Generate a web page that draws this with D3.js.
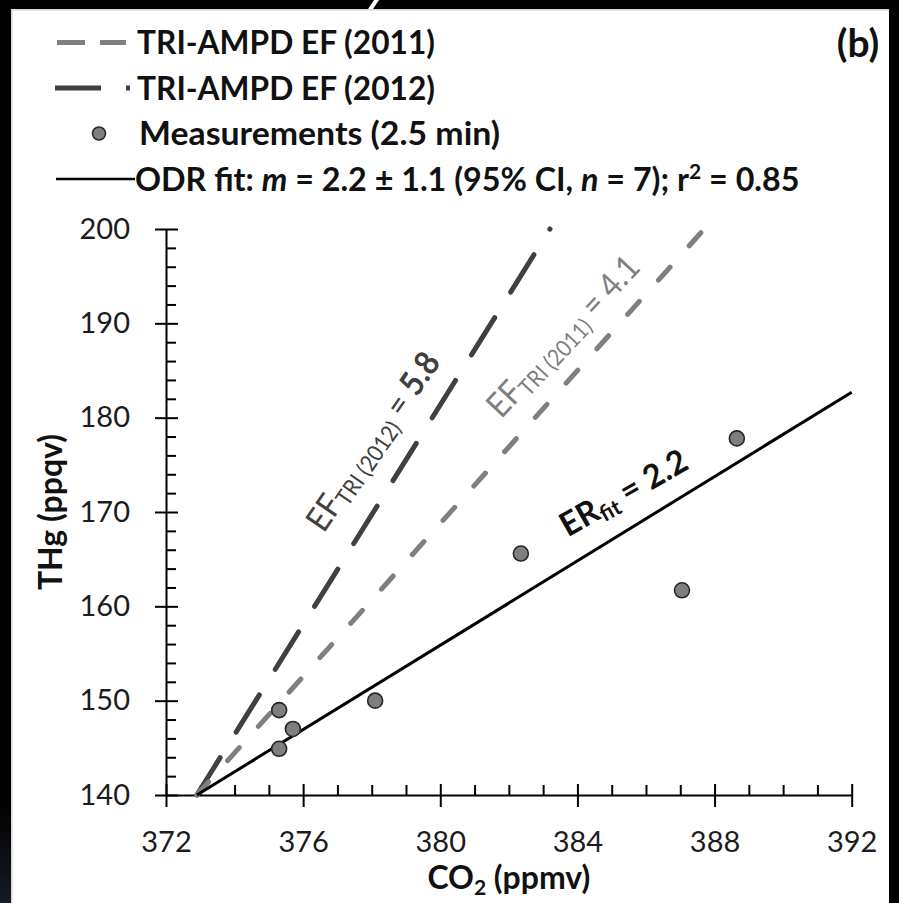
<!DOCTYPE html>
<html><head><meta charset="utf-8">
<script src="https://cdn.jsdelivr.net/npm/d3@7"></script>
<style>body{margin:0;background:#000}svg{display:block}text{font-family:Lato,"Open Sans",sans-serif}</style>
</head><body><svg id="c" width="899" height="903"></svg>
<script>
// ---------- data ----------
const xTicks = [372, 376, 380, 384, 388, 392];
const xMinor = [373, 374, 375, 377, 378, 379, 381, 382, 383, 385, 386, 387, 389, 390, 391];
const yTicks = [140, 150, 160, 170, 180, 190, 200];
const yMinor = [142, 144, 146, 148, 152, 154, 156, 158, 162, 164, 166, 168, 172, 174, 176, 178, 182, 184, 186, 188, 192, 194, 196, 198];

const co2 = [375.3, 375.7, 375.3, 378.1, 382.35, 387.05, 388.65];
const thg = [149.0, 147.0, 144.9, 150.0, 165.6, 161.7, 177.8];

const ef2011CO2 = [372.9, 387.7];
const ef2011THg = [140, 200];
const ef2012CO2 = [372.9, 383.2];
const ef2012THg = [140, 200];
const fitCO2 = [372.9, 392];
const fitTHg = [140, 182.7];

const legendLabels = ["TRI-AMPD EF (2011)", "TRI-AMPD EF (2012)", "Measurements (2.5 min)"];

// ---------- colours ----------
const C2011 = "#7f7f7f", C2012 = "#404040", CPT = "#7f7f7f";

const svg = d3.select("#c");

// frame
svg.append("rect").attr("width", 899).attr("height", 903).attr("fill", "#000");
const grad = svg.append("defs").append("linearGradient").attr("id", "lg").attr("x1", 0).attr("x2", 0).attr("y1", 0).attr("y2", 1);
grad.append("stop").attr("offset", "0").attr("stop-color", "#000");
grad.append("stop").attr("offset", "1").attr("stop-color", "#161b24");
svg.append("rect").attr("x", 0).attr("y", 800).attr("width", 11).attr("height", 103).attr("fill", "url(#lg)");
svg.append("rect").attr("x", 11).attr("y", 9).attr("width", 878).attr("height", 894).attr("fill", "#fff");
svg.append("rect").attr("x", 11).attr("y", 9).attr("width", 1.5).attr("height", 894).attr("fill", "#d8d8d8");
svg.append("rect").attr("x", 11).attr("y", 9).attr("width", 878).attr("height", 1.5).attr("fill", "#d8d8d8");
svg.append("polygon").attr("points", "368,9 373,9 379,0 374,0").attr("fill", "#fff");

// ---------- scales ----------
const x = d3.scaleLinear().domain([372, 392]).range([166, 851.7]);
const y = d3.scaleLinear().domain([140, 200]).range([795, 229]);

// ---------- axes ----------
function styleAxis(g) {
  g.select(".domain").attr("stroke", "#000").attr("stroke-width", 2);
  g.selectAll(".tick line").attr("stroke", "#000").attr("stroke-width", 2);
}
const gx = svg.append("g").attr("transform", `translate(0,${y(140)})`)
  .call(d3.axisBottom(x).tickValues(xTicks).tickSize(12).tickSizeOuter(0).tickFormat(d3.format("d")));
styleAxis(gx);
gx.selectAll(".tick text").attr("y", 57).attr("dy", 0).attr("font-size", 29).attr("fill", "#1c1c1c").attr("font-family", "Lato");
const gx2 = svg.append("g").attr("transform", `translate(0,${y(140)})`)
  .call(d3.axisBottom(x).tickValues(xTicks).tickSize(-11).tickFormat(""));
gx2.select(".domain").remove(); styleAxis(gx2);
const gxm = svg.append("g").attr("transform", `translate(0,${y(140)})`)
  .call(d3.axisBottom(x).tickValues(xMinor).tickSize(-10).tickFormat(""));
gxm.select(".domain").remove(); styleAxis(gxm);

const gy = svg.append("g").attr("transform", `translate(${x(372)},0)`)
  .call(d3.axisLeft(y).tickValues(yTicks).tickSize(11).tickSizeOuter(0).tickPadding(25).tickFormat(d3.format("d")));
styleAxis(gy);
gy.selectAll(".tick text").attr("font-size", 29).attr("fill", "#1c1c1c").attr("font-family", "Lato");
const gy2 = svg.append("g").attr("transform", `translate(${x(372)},0)`)
  .call(d3.axisLeft(y).tickValues(yTicks).tickSize(-12).tickFormat(""));
gy2.select(".domain").remove(); styleAxis(gy2);
const gym = svg.append("g").attr("transform", `translate(${x(372)},0)`)
  .call(d3.axisLeft(y).tickValues(yMinor).tickSize(-10).tickFormat(""));
gym.select(".domain").remove(); styleAxis(gym);

// axis titles
const xt = svg.append("text").attr("x", (x(372) + x(392)) / 2).attr("y", 889)
  .attr("text-anchor", "middle").attr("font-size", 32).attr("font-weight", 700).attr("fill", "#111");
xt.append("tspan").text("CO");
xt.append("tspan").text("2").attr("font-size", 21).attr("dy", 6);
xt.append("tspan").text(" (ppmv)").attr("dy", -6);

svg.append("text").attr("transform", `translate(62,${(y(140) + y(200)) / 2}) rotate(-90)`)
  .attr("text-anchor", "middle").attr("font-size", 32).attr("font-weight", 700).attr("fill", "#111")
  .text("THg (ppqv)");

// ---------- lines ----------
const line = d3.line().x(d => x(d[0])).y(d => y(d[1]));
const zip = (a, b) => a.map((v, i) => [v, b[i]]);

svg.append("path").datum(zip(ef2012CO2, ef2012THg)).attr("d", line)
  .attr("fill", "none").attr("stroke", C2012).attr("stroke-width", 5)
  .attr("stroke-linecap", "round").attr("stroke-dasharray", "44,30.1");
svg.append("path").datum(zip(ef2011CO2, ef2011THg)).attr("d", line)
  .attr("fill", "none").attr("stroke", C2011).attr("stroke-width", 5)
  .attr("stroke-linecap", "round").attr("stroke-dasharray", "17.5,28.6");
svg.append("path").datum(zip(fitCO2, fitTHg)).attr("d", line)
  .attr("fill", "none").attr("stroke", "#000").attr("stroke-width", 3);

// ---------- points ----------
svg.append("g").selectAll("circle").data(zip(co2, thg)).join("circle")
  .attr("cx", d => x(d[0])).attr("cy", d => y(d[1])).attr("r", 7.5)
  .attr("fill", CPT).attr("stroke", "#262626").attr("stroke-width", 1.6);

// ---------- rotated annotations ----------
function rotLabel(px, py, ang, parts, fill, len) {
  const t = svg.append("text").attr("transform", `translate(${px},${py}) rotate(${ang})`).attr("fill", fill)
    .attr("textLength", len).attr("lengthAdjust", "spacingAndGlyphs");
  let prevDy = 0;
  parts.forEach(p => {
    const ts = t.append("tspan").text(p.t).attr("font-size", p.s).attr("font-weight", p.w || 400);
    const dy = (p.dy || 0) - prevDy;
    if (dy) ts.attr("dy", dy);
    prevDy = p.dy || 0;
  });
  return t;
}
rotLabel(x(376.6), y(167.7), -55.5, [
  { t: "EF", s: 34 }, { t: "TRI (2012)", s: 23, dy: 5 }, { t: " = ", s: 34 }, { t: "5.8", s: 34, w: 700 }
], C2012, 208);
rotLabel(x(381.78), y(179.8), -47, [
  { t: "EF", s: 34 }, { t: "TRI (2011)", s: 23, dy: 5 }, { t: " = 4.1", s: 34 }
], C2011, 206);
rotLabel(x(383.72), y(167.3), -29.5, [
  { t: "ER", s: 33, w: 700 }, { t: "fit", s: 22, w: 700, dy: 5 }, { t: " =  2.2", s: 33, w: 700 }
], "#111", 141);

// ---------- legend ----------
const rowBase = [54, 99.5, 145, 190.5];
const rowMid = rowBase.map(b => b - 11.5);
const lg = svg.append("g");
lg.append("line").attr("x1", 57).attr("x2", 126).attr("y1", rowMid[0]).attr("y2", rowMid[0])
  .attr("stroke", C2011).attr("stroke-width", 5).attr("stroke-dasharray", "28,15");
lg.append("line").attr("x1", 55).attr("x2", 130).attr("y1", rowMid[1]).attr("y2", rowMid[1])
  .attr("stroke", C2012).attr("stroke-width", 5).attr("stroke-dasharray", "46,25,4,100");
lg.append("circle").attr("cx", 99).attr("cy", rowMid[2]).attr("r", 6.5)
  .attr("fill", CPT).attr("stroke", "#262626").attr("stroke-width", 1.5);
lg.append("line").attr("x1", 56).attr("x2", 135).attr("y1", rowMid[3]).attr("y2", rowMid[3])
  .attr("stroke", "#000").attr("stroke-width", 2.5);

const legW = [298, 298, 361];
legendLabels.forEach((s, i) => {
  lg.append("text").attr("x", i === 2 ? 139 : 137).attr("y", rowBase[i]).attr("font-size", 32.5).attr("font-weight", 700)
    .attr("fill", "#111").attr("textLength", legW[i]).attr("lengthAdjust", "spacingAndGlyphs").text(s);
});
// ODR row: natural width (no textLength), font sized to match the reference width
const r4 = lg.append("text").attr("x", 135).attr("y", rowBase[3]).attr("font-size", 32).attr("font-weight", 700)
  .attr("fill", "#111");
r4.append("tspan").text("ODR fit: ");
r4.append("tspan").text("m").attr("font-style", "italic");
r4.append("tspan").text(" = 2.2 ± 1.1 (95% CI, ");
r4.append("tspan").text("n").attr("font-style", "italic");
r4.append("tspan").text(" = 7); r");
r4.append("tspan").text("2").attr("font-size", 21).attr("dy", -12);
r4.append("tspan").text(" = 0.85").attr("dy", 12);
// fit the row to the reference width of ~665 px
const w4 = r4.node().getComputedTextLength();
if (w4 > 0) r4.attr("font-size", 32 * 665 / w4);

svg.append("text").attr("x", 858).attr("y", 57).attr("text-anchor", "middle")
  .attr("font-size", 39).attr("font-weight", 700).attr("fill", "#111").text("(b)");
</script></body></html>
